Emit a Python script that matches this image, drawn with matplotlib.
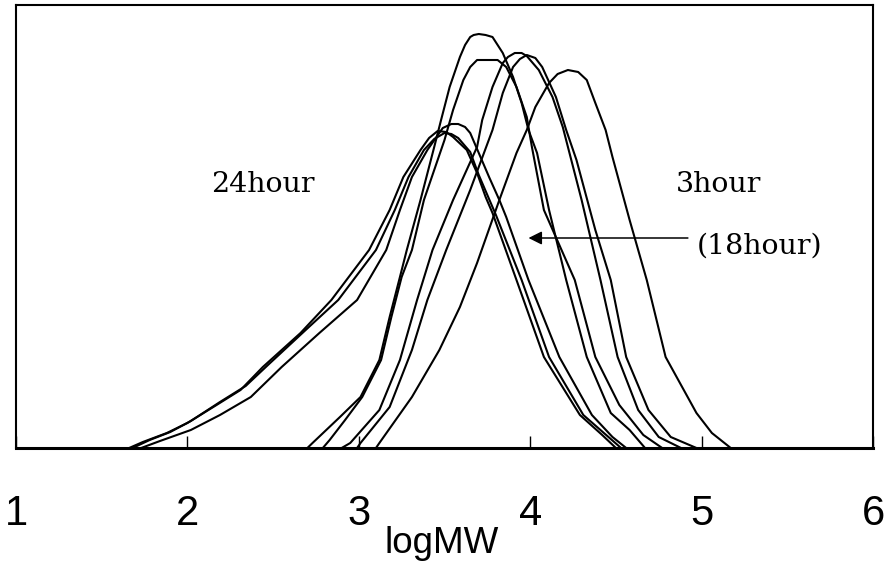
import matplotlib
matplotlib.use("Agg")
import matplotlib.pyplot as plt

# ---- data (logMW, detector response in arbitrary units) ----
a1_x = [1.66, 1.74, 1.88, 2.00, 2.17, 2.31, 2.44, 2.66, 2.84, 3.06, 3.18, 3.26, 3.36, 3.41, 3.46, 3.51, 3.55, 3.63, 3.69, 3.74, 3.78, 3.92, 4.08, 4.29, 4.42, 4.50]
a1_y = [0, 6, 15, 25, 43, 58, 81, 115, 148, 198, 238, 271, 298, 310, 317, 316, 311, 298, 275, 251, 235, 168, 91, 33, 13, 0]

a2_x = [1.68, 1.78, 1.90, 2.02, 2.19, 2.34, 2.47, 2.69, 2.88, 3.10, 3.21, 3.29, 3.38, 3.44, 3.50, 3.54, 3.58, 3.65, 3.70, 3.76, 3.80, 3.95, 4.11, 4.31, 4.45, 4.53]
a2_y = [0, 8, 16, 27, 46, 62, 83, 118, 148, 198, 238, 271, 298, 309, 315, 314, 310, 296, 273, 249, 233, 168, 91, 33, 12, 0]

a3_x = [1.73, 1.84, 2.02, 2.19, 2.37, 2.55, 2.77, 2.99, 3.16, 3.24, 3.31, 3.40, 3.49, 3.54, 3.58, 3.62, 3.65, 3.70, 3.76, 3.82, 3.86, 3.99, 4.17, 4.36, 4.48, 4.56]
a3_y = [0, 7, 18, 33, 51, 81, 115, 148, 198, 238, 271, 298, 320, 324, 324, 321, 315, 295, 271, 248, 231, 168, 91, 33, 11, 0]

h_x = [2.70, 2.73, 2.89, 3.01, 3.12, 3.18, 3.24, 3.28, 3.36, 3.44, 3.48, 3.53, 3.59, 3.62, 3.65, 3.67, 3.70, 3.74, 3.78, 3.84, 3.90, 3.95, 3.99, 4.04, 4.11, 4.21, 4.33, 4.47, 4.58, 4.67]
h_y = [0, 5, 31, 51, 88, 131, 171, 198, 248, 301, 328, 361, 391, 403, 411, 413, 414, 413, 411, 395, 371, 345, 318, 295, 238, 168, 91, 35, 18, 0]

f_x = [2.79, 2.83, 2.92, 3.02, 3.13, 3.19, 3.25, 3.31, 3.38, 3.50, 3.55, 3.61, 3.65, 3.69, 3.81, 3.86, 3.92, 3.98, 4.01, 4.08, 4.26, 4.38, 4.52, 4.66, 4.77]
f_y = [0, 8, 28, 51, 88, 131, 171, 198, 248, 308, 338, 368, 381, 388, 388, 381, 361, 331, 301, 238, 168, 91, 43, 13, 0]

p1_x = [2.90, 2.95, 3.12, 3.24, 3.34, 3.43, 3.55, 3.69, 3.72, 3.78, 3.84, 3.87, 3.91, 3.95, 3.98, 4.05, 4.13, 4.19, 4.30, 4.41, 4.51, 4.63, 4.75, 4.88]
p1_y = [0, 5, 38, 88, 148, 198, 248, 301, 328, 361, 385, 391, 395, 395, 392, 378, 351, 321, 248, 168, 91, 38, 11, 0]

p2_x = [2.99, 3.01, 3.18, 3.31, 3.40, 3.51, 3.65, 3.78, 3.84, 3.90, 3.94, 3.98, 4.03, 4.07, 4.15, 4.21, 4.27, 4.38, 4.47, 4.56, 4.69, 4.82, 4.97]
p2_y = [0, 5, 41, 98, 148, 198, 258, 318, 355, 381, 389, 393, 390, 381, 351, 318, 288, 218, 168, 91, 38, 11, 0]

t_x = [3.10, 3.12, 3.31, 3.47, 3.59, 3.69, 3.82, 3.92, 3.98, 4.03, 4.11, 4.16, 4.22, 4.28, 4.33, 4.38, 4.44, 4.48, 4.58, 4.68, 4.79, 4.97, 5.06, 5.17]
t_y = [0, 5, 51, 98, 141, 185, 248, 295, 318, 341, 365, 374, 378, 376, 368, 345, 318, 291, 228, 168, 91, 35, 15, 0]

curves = [(a1_x, a1_y), (a2_x, a2_y), (a3_x, a3_y), (h_x, h_y),
          (f_x, f_y), (p1_x, p1_y), (p2_x, p2_y), (t_x, t_y)]

tick_vals = [1, 2, 3, 4, 5, 6]
tick_labels = ["1", "2", "3", "4", "5", "6"]

# ---- figure ----
fig = plt.figure(figsize=(8.9, 5.68), dpi=100)
ax = fig.add_axes([16 / 890, 1 - 448 / 568, (873 - 16) / 890, (448 - 5) / 568])

for xs, ys in curves:
    ax.plot(xs, ys, color="black", lw=1.5)

ax.set_xlim(1, 6)
ax.set_ylim(0, 443)

ax.set_xticks(tick_vals)
ax.set_xticklabels(tick_labels, fontfamily="Liberation Sans", fontsize=30)
ax.tick_params(axis="x", direction="in", length=8.5, width=1.0, pad=33)
ax.set_yticks([])

for side in ["left", "right", "top"]:
    ax.spines[side].set_linewidth(1.5)
ax.spines["bottom"].set_linewidth(2.2)

serif = dict(fontfamily="DejaVu Serif", fontsize=20.5, color="black")
ax.text(2.44, 256, "24hour", ha="center", va="baseline", **serif)
ax.text(5.10, 256, "3hour", ha="center", va="baseline", **serif)
ax.text(5.34, 194, "(18hour)", ha="center", va="baseline", **serif)

ax.annotate("", xy=(3.99, 210), xytext=(4.92, 210),
            arrowprops=dict(arrowstyle="-|>", color="black", lw=1.1,
                            mutation_scale=20, shrinkA=0, shrinkB=0))

fig.text(442 / 890, 1 - 553 / 568, "logMW", ha="center", va="baseline",
         fontfamily="Liberation Sans", fontsize=26.5)

fig.savefig("out.png", dpi=100)
